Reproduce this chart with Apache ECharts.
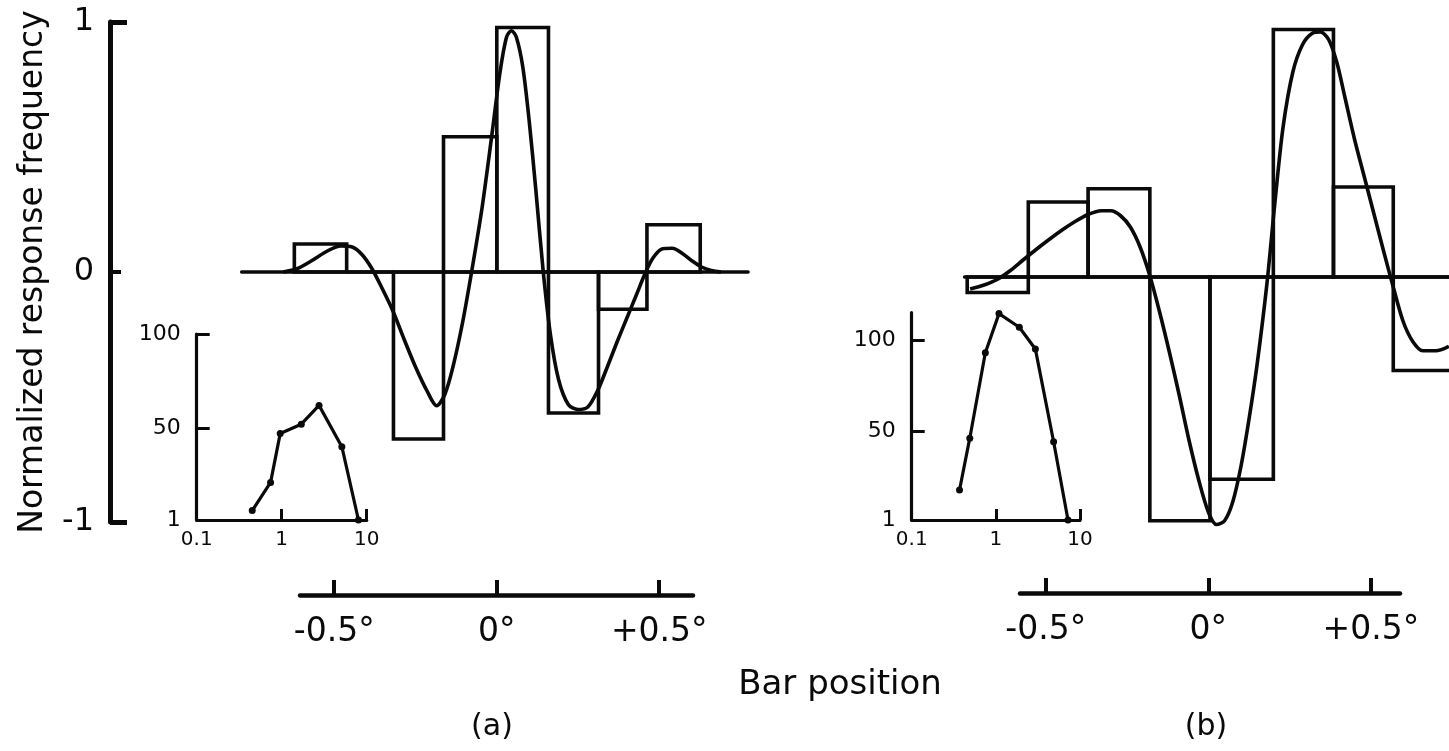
<!DOCTYPE html>
<html>
<head>
<meta charset="utf-8">
<script src="https://cdn.jsdelivr.net/npm/echarts@6/dist/echarts.min.js"></script>
<style>
html,body{margin:0;padding:0;background:#fff;}
#c{width:1449px;height:751px;}
</style>
</head>
<body>
<div id="c"></div>
<script>
// ---------- data ----------
// Panel (a): histogram bin edges (deg) and normalized response per bin
const edgesA = [-0.623, -0.462, -0.318, -0.164, 0, 0.159, 0.313, 0.462, 0.626];
const valuesA = [0.112, 0, -0.668, 0.541, 0.978, -0.564, -0.149, 0.189];
// Panel (a): fitted curve (deg, normalized response)
const curveA = [[-0.657,0],[-0.615,0.013],[-0.57,0.045],[-0.52,0.085],[-0.48,0.104],[-0.445,0.1],
  [-0.415,0.07],[-0.385,0.015],[-0.355,-0.06],[-0.32,-0.155],[-0.285,-0.27],[-0.25,-0.38],[-0.215,-0.475],
  [-0.185,-0.535],[-0.16,-0.49],[-0.135,-0.38],[-0.105,-0.2],[-0.075,0.02],[-0.045,0.26],[-0.015,0.55],
  [0.01,0.8],[0.03,0.94],[0.045,0.965],[0.06,0.94],[0.08,0.82],[0.1,0.6],[0.12,0.33],[0.143,0],
  [0.165,-0.25],[0.19,-0.43],[0.22,-0.53],[0.25,-0.55],[0.28,-0.54],[0.31,-0.475],[0.34,-0.38],
  [0.37,-0.28],[0.4,-0.185],[0.43,-0.09],[0.455,-0.01],[0.48,0.055],[0.51,0.093],[0.54,0.095],
  [0.57,0.075],[0.6,0.045],[0.63,0.02],[0.66,0.006],[0.69,0]];
// Panel (a) inset
const insetAx = [0.45, 0.74, 0.96, 1.7, 2.75, 5.1, 8.0];
const insetAy = [6, 21, 47, 52, 62, 40, 1];

// Panel (b)
const edgesB = [-0.742, -0.554, -0.37, -0.18, 0.005, 0.2, 0.385, 0.569, 0.76];
const valuesB = [-0.062, 0.30, 0.353, -0.975, -0.809, 0.99, 0.36, -0.374];
const curveB = [[-0.733,-0.048],[-0.69,-0.032],[-0.65,-0.01],[-0.61,0.025],[-0.57,0.068],[-0.53,0.11],
  [-0.49,0.15],[-0.45,0.188],[-0.41,0.222],[-0.37,0.25],[-0.33,0.265],[-0.3,0.265],[-0.27,0.245],
  [-0.24,0.2],[-0.21,0.12],[-0.18,0.005],[-0.15,-0.14],[-0.12,-0.3],[-0.09,-0.47],[-0.06,-0.65],[-0.03,-0.81],
  [0,-0.94],[0.025,-0.99],[0.05,-0.975],[0.075,-0.9],[0.1,-0.76],[0.125,-0.57],[0.15,-0.35],
  [0.18,-0.03],[0.205,0.3],[0.23,0.6],[0.26,0.82],[0.29,0.93],[0.32,0.975],[0.345,0.98],[0.37,0.95],
  [0.395,0.86],[0.42,0.72],[0.45,0.55],[0.48,0.4],[0.51,0.25],[0.54,0.1],[0.57,-0.045],[0.6,-0.18],
  [0.63,-0.26],[0.66,-0.295],[0.7,-0.295],[0.74,-0.277]];
const insetBx = [0.37, 0.49, 0.75, 1.09, 1.9, 2.95, 4.86, 7.2];
const insetBy = [17.5, 46, 93, 114.5, 107, 95, 44, 1];

// Tick values / labels
const mainYTicks = [-1, 0, 1];
const mainYLabels = ['-1', '0', '1'];
const degTicks = [-0.5, 0, 0.5];
const degLabels = ['-0.5°', '0°', '+0.5°'];
const insetXTicks = [0.1, 1, 10];
const insetXLabels = ['0.1', '1', '10'];
const insetYTicks = [1, 50, 100];
const insetYLabels = ['1', '50', '100'];

const yTitle = 'Normalized response frequency';
const xTitle = 'Bar position';
const panelLabels = ['(a)', '(b)'];

// ---------- styling ----------
const INK = '#0a0a0a';
const FONT = 'DejaVu Sans';
const LW = 3.6;

function pick(ticks, labels) {
  return function (v) {
    let best = 0, d = Infinity;
    ticks.forEach(function (t, i) {
      const dd = Math.abs(t - v) / Math.max(Math.abs(t), 0.05);
      if (dd < d) { d = dd; best = i; }
    });
    return labels[best];
  };
}

function hist(edges, values) {
  return values.map(function (v, i) { return [edges[i], edges[i + 1], v]; });
}
function zip(xs, ys) { return xs.map(function (x, i) { return [x, ys[i]]; }); }

function histItem(params, api) {
  const x0 = api.value(0), x1 = api.value(1), v = api.value(2);
  const a = api.coord([x0, 0]);
  const b = api.coord([x1, v]);
  return {
    type: 'rect',
    shape: { x: a[0], y: Math.min(a[1], b[1]), width: b[0] - a[0], height: Math.abs(b[1] - a[1]) },
    style: { fill: 'none', stroke: INK, lineWidth: LW }
  };
}

const txt = function (size) { return { color: INK, fontFamily: FONT, fontSize: size }; };

function dataX(grid, min, max) {
  return {
    gridIndex: grid, type: 'value', min: min, max: max,
    axisLine: { show: true, onZero: true, lineStyle: { color: INK, width: LW } },
    axisTick: { show: false }, axisLabel: { show: false }, splitLine: { show: false }
  };
}
function degX(grid, min, max) {
  return {
    gridIndex: grid, type: 'value', min: min, max: max, position: 'bottom',
    axisLine: { show: true, onZero: false, lineStyle: { color: INK, width: 4.5 } },
    axisTick: { show: true, inside: true, length: 15, customValues: degTicks, lineStyle: { color: INK, width: 4 } },
    axisLabel: Object.assign({ customValues: degTicks, margin: 21, formatter: pick(degTicks, degLabels) }, txt(33)),
    splitLine: { show: false }
  };
}
function insetX(grid) {
  return {
    gridIndex: grid, type: 'log', logBase: 10, min: 0.1, max: 10,
    axisLine: { show: true, onZero: false, lineStyle: { color: INK, width: 3.2 } },
    axisTick: { show: true, inside: true, length: 11, customValues: insetXTicks, lineStyle: { color: INK, width: 3 } },
    axisLabel: Object.assign({ customValues: insetXTicks, margin: 10, formatter: pick(insetXTicks, insetXLabels) }, txt(20)),
    splitLine: { show: false }, minorTick: { show: false }
  };
}
function insetY(grid, max) {
  return {
    gridIndex: grid, type: 'value', min: 1, max: max,
    axisLine: { show: true, onZero: false, lineStyle: { color: INK, width: 3.2 } },
    axisTick: { show: true, inside: true, length: 13, customValues: [50, 100], lineStyle: { color: INK, width: 3 } },
    axisLabel: Object.assign({ customValues: insetYTicks, margin: 16, formatter: pick(insetYTicks, insetYLabels) }, txt(22)),
    splitLine: { show: false }
  };
}
function hiddenY(grid, min, max) {
  return { gridIndex: grid, type: 'value', min: min, max: max, show: false, axisLine: { onZero: false } };
}

const option = {
  backgroundColor: '#ffffff',
  animation: false,
  grid: [
    { left: 241.7, top: 22, width: 506.3, height: 500 },      // 0 panel a data
    { left: 300, top: 560, width: 393, height: 35 },          // 1 panel a degree axis
    { left: 196.7, top: 334, width: 170, height: 186 },       // 2 inset a
    { left: 964.6, top: 27, width: 484.4, height: 500 },      // 3 panel b data
    { left: 1020, top: 558, width: 380, height: 35 },         // 4 panel b degree axis
    { left: 911.7, top: 312.7, width: 168.3, height: 207.3 }  // 5 inset b
  ],
  xAxis: [
    dataX(0, -0.785, 0.773),
    degX(1, -0.6052, 0.604),
    insetX(2),
    dataX(3, -0.75, 0.7405),
    degX(4, -0.5794, 0.5898),
    insetX(5)
  ],
  yAxis: [
    {
      gridIndex: 0, type: 'value', min: -1, max: 1, position: 'left', offset: 131.7,
      axisLine: { show: true, onZero: false, lineStyle: { color: INK, width: 5 } },
      axisTick: { show: true, inside: true, length: 17, customValues: [-1, 1], lineStyle: { color: INK, width: 5 } },
      axisLabel: Object.assign({ customValues: mainYTicks, margin: 16, formatter: pick(mainYTicks, mainYLabels) }, txt(32)),
      splitLine: { show: false },
      name: yTitle, nameLocation: 'middle', nameRotate: 90, nameGap: 60,
      nameTextStyle: txt(33)
    },
    hiddenY(1, 0, 1),
    insetY(2, 100),
    hiddenY(3, -1, 1),
    hiddenY(4, 0, 1),
    insetY(5, 115),
    {
      gridIndex: 0, type: 'value', min: -1, max: 1, position: 'left', offset: 131.7,
      axisLine: { show: false, onZero: false },
      axisTick: { show: true, inside: true, length: 11, customValues: [0], lineStyle: { color: INK, width: 4 } },
      axisLabel: { show: false }, splitLine: { show: false }
    }
  ],
  graphic: [
    { type: 'text', style: { text: xTitle, fill: INK, font: '34px "' + FONT + '"', textAlign: 'center', textVerticalAlign: 'middle', x: 840, y: 685 } },
    { type: 'text', style: { text: panelLabels[0], fill: INK, font: '30px "' + FONT + '"', textAlign: 'center', textVerticalAlign: 'middle', x: 492, y: 727 } },
    { type: 'text', style: { text: panelLabels[1], fill: INK, font: '30px "' + FONT + '"', textAlign: 'center', textVerticalAlign: 'middle', x: 1206, y: 727 } }
  ],
  series: [
    { type: 'custom', xAxisIndex: 0, yAxisIndex: 0, renderItem: histItem, data: hist(edgesA, valuesA), clip: true, silent: true, z: 3,
      encode: { x: [0, 1], y: 2 } },
    { type: 'line', xAxisIndex: 0, yAxisIndex: 0, data: curveA, smooth: 0.3, showSymbol: false, silent: true, z: 4,
      lineStyle: { color: INK, width: LW } },
    { type: 'line', xAxisIndex: 2, yAxisIndex: 2, data: zip(insetAx, insetAy), symbol: 'circle', symbolSize: 7, silent: true,
      itemStyle: { color: INK }, lineStyle: { color: INK, width: 3.2 } },
    { type: 'custom', xAxisIndex: 3, yAxisIndex: 3, renderItem: histItem, data: hist(edgesB, valuesB), clip: true, silent: true, z: 3,
      encode: { x: [0, 1], y: 2 } },
    { type: 'line', xAxisIndex: 3, yAxisIndex: 3, data: curveB, smooth: 0.3, showSymbol: false, silent: true, z: 4,
      lineStyle: { color: INK, width: LW } },
    { type: 'line', xAxisIndex: 5, yAxisIndex: 5, data: zip(insetBx, insetBy), symbol: 'circle', symbolSize: 7, silent: true,
      itemStyle: { color: INK }, lineStyle: { color: INK, width: 3.2 } }
  ]
};

const chart = echarts.init(document.getElementById('c'), null, { renderer: 'canvas' });
chart.setOption(option);
</script>
</body>
</html>
